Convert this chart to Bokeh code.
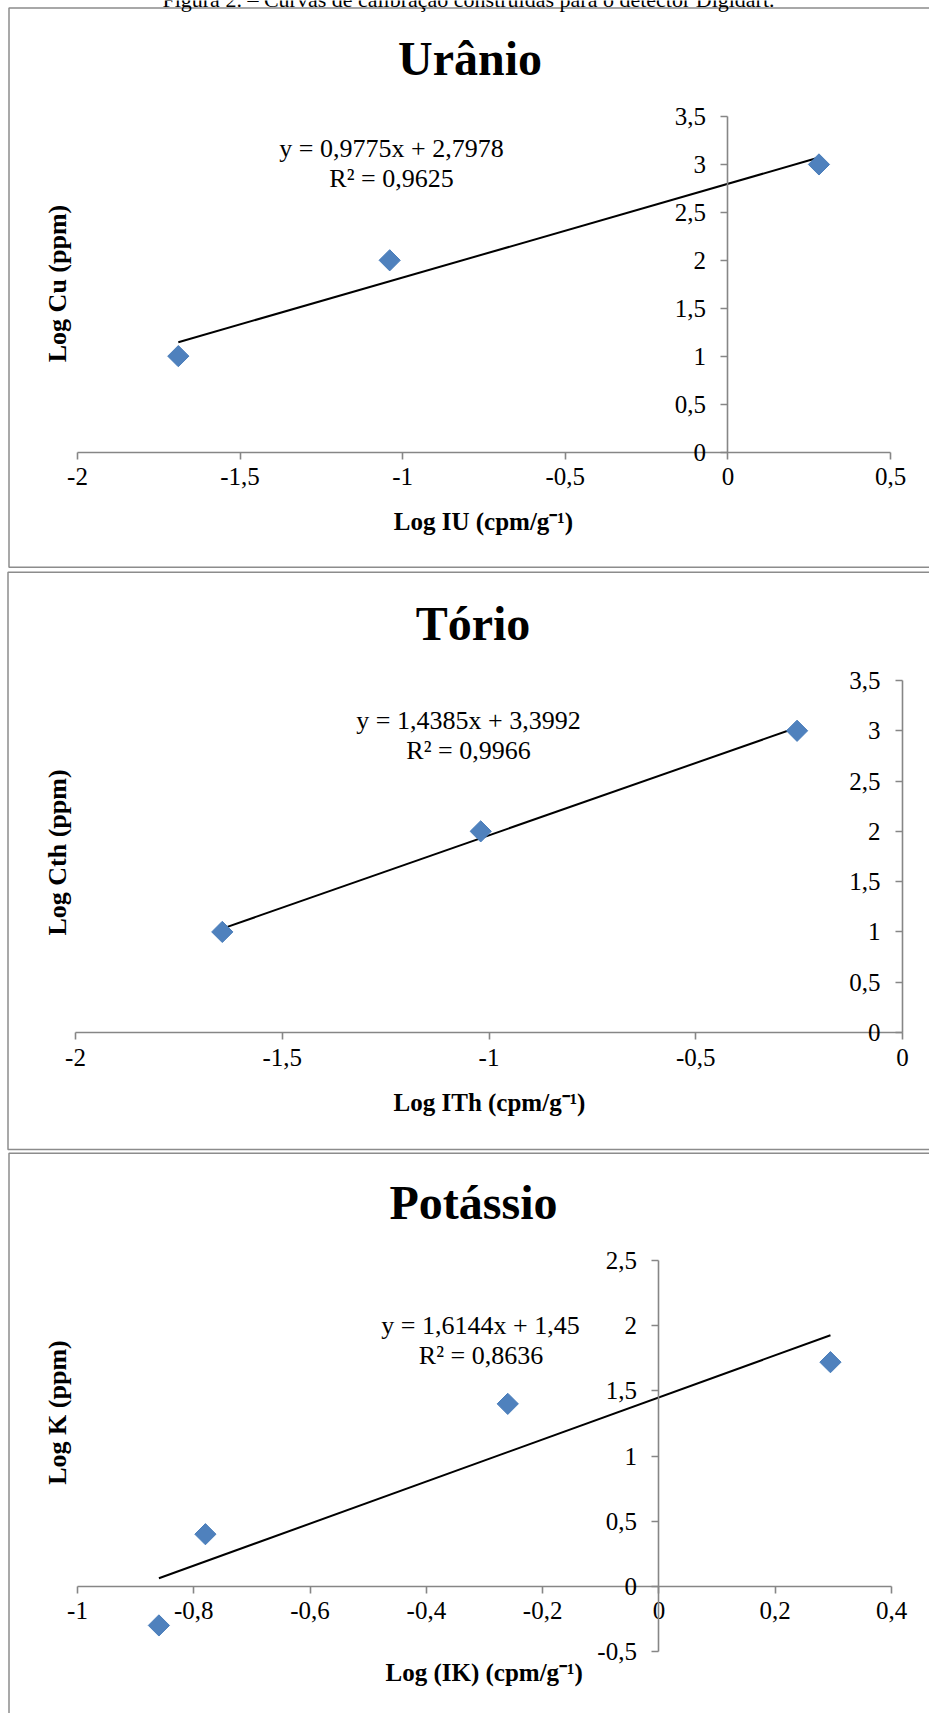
import math
from bokeh.plotting import figure
from bokeh.models import Range1d, LinearAxis, FixedTicker, CustomJSTickFormatter, Grid
from bokeh.layouts import column
from bokeh.core.properties import value
from bokeh.embed import file_html
from bokeh.resources import INLINE

# ---------------- data ----------------
caption = "Figura 2. – Curvas de calibração construídas para o detector Digidart."

u_x = [-1.69, -1.04, 0.28]
u_y = [1.0, 2.0, 3.0]
u_slope, u_intercept, u_r2 = 0.9775, 2.7978, 0.9625
u_xticks = [-2, -1.5, -1, -0.5, 0, 0.5]
u_yticks = [0, 0.5, 1, 1.5, 2, 2.5, 3, 3.5]

th_x = [-1.645, -1.02, -0.255]
th_y = [1.0, 2.0, 3.0]
th_slope, th_intercept, th_r2 = 1.4385, 3.3992, 0.9966
th_xticks = [-2, -1.5, -1, -0.5, 0]
th_yticks = [0, 0.5, 1, 1.5, 2, 2.5, 3, 3.5]

k_x = [-0.86, -0.78, -0.26, 0.295]
k_y = [-0.30, 0.40, 1.40, 1.72]
k_slope, k_intercept, k_r2 = 1.6144, 1.45, 0.8636
k_xticks = [-1, -0.8, -0.6, -0.4, -0.2, 0, 0.2, 0.4]
k_yticks = [-0.5, 0, 0.5, 1, 1.5, 2, 2.5]

titles = ["Urânio", "Tório", "Potássio"]
x_titles = ["Log IU (cpm/g⁻¹)", "Log ITh (cpm/g⁻¹)", "Log (IK) (cpm/g⁻¹)"]
y_titles = ["Log Cu (ppm)", "Log Cth (ppm)", "Log K (ppm)"]

FONT = value("Liberation Serif")
AXIS_GRAY = "#868686"
BORDER_GRAY = "#8c8c8c"
MARKER_BLUE = "#4F81BD"


def num(v):
    return str(v).replace(".", ",")


fmt_code = "var v = Math.round(tick*10)/10; return v.toString().replace('.', ',');"


def panel(W, H, top, xmap, ymap, xs, ys, slope, intercept, r2, xticks, yticks,
          title, xtitle, ytitle, pos, border, cap=None):
    (xa, pxa), (xb, pxb) = xmap
    (ya, pya), (yb, pyb) = ymap
    sx = (pxb - pxa) / (xb - xa)
    x0 = xa - pxa / sx
    x1 = x0 + W / sx
    pya_l = pya - top
    pyb_l = pyb - top
    sy = (pya_l - pyb_l) / (yb - ya)
    y_top = ya + pya_l / sy
    y_bot = y_top - H / sy

    p = figure(width=W, height=H, x_range=Range1d(x0, x1), y_range=Range1d(y_bot, y_top),
               output_backend="svg", toolbar_location=None, title=None,
               x_axis_location=None, y_axis_location=None, min_border=0)
    p.outline_line_color = None
    p.background_fill_color = "white"
    p.border_fill_color = "white"
    p.center = [r for r in p.center if not isinstance(r, Grid)]
    p.extra_x_ranges = {"px": Range1d(0, W)}
    p.extra_y_ranges = {"py": Range1d(H, 0)}

    def style(ax, standoff):
        ax.axis_line_color = AXIS_GRAY
        ax.axis_line_width = 1.6
        ax.major_tick_line_color = AXIS_GRAY
        ax.major_tick_line_width = 1.6
        ax.major_tick_in = 0
        ax.major_tick_out = 7
        ax.minor_tick_line_color = None
        ax.major_label_text_font = "Liberation Serif"
        ax.major_label_text_font_size = "25px"
        ax.major_label_text_color = "black"
        ax.major_label_standoff = standoff

    xaxis = LinearAxis(fixed_location=0, bounds=(xticks[0], xticks[-1]),
                       ticker=FixedTicker(ticks=xticks, minor_ticks=[]),
                       formatter=CustomJSTickFormatter(code=fmt_code))
    style(xaxis, 9)
    p.add_layout(xaxis, "below")
    yaxis = LinearAxis(fixed_location=0, bounds=(yticks[0], yticks[-1]),
                       ticker=FixedTicker(ticks=yticks, minor_ticks=[]),
                       formatter=CustomJSTickFormatter(code=fmt_code))
    style(yaxis, 15)
    p.add_layout(yaxis, "left")

    # trendline over the data's x span
    lx = [min(xs), max(xs)]
    ly = [slope * v + intercept for v in lx]
    p.line(lx, ly, line_color="black", line_width=2)

    # points (diamonds)
    p.scatter(xs, ys, marker="square", angle=math.pi / 4, size=15,
              fill_color=MARKER_BLUE, line_color="#4A7EBB", line_width=1)

    # border (left, top, bottom; right side is off-page)
    bl, bt, bb = border
    if bb is not None:
        bx = [W + 10, bl, bl, W + 10]
        by = [bt - top, bt - top, bb - top, bb - top]
    else:
        bx = [W + 10, bl, bl]
        by = [bt - top, bt - top, H + 10]
    p.line(bx, by, x_range_name="px", y_range_name="py", line_color=BORDER_GRAY, line_width=1.5)

    (tx, ty), (e1x, e1y), (e2x, e2y), (xlx, xly), (ylx, yly) = pos
    common = dict(x_range_name="px", y_range_name="py", text_font=FONT,
                  text_align="center", text_baseline="middle", text_color="black")
    p.text(x=[tx], y=[ty - top], text=[title], text_font_size="48px",
           text_font_style="bold", **common)
    eq = "y = %sx + %s" % (num(slope), num(intercept))
    rr = "R² = %s" % num(r2)
    p.text(x=[e1x, e2x], y=[e1y - top, e2y - top], text=[eq, rr],
           text_font_size="26px", **common)
    p.text(x=[xlx], y=[xly - top], text=[xtitle], text_font_size="25px",
           text_font_style="bold", **common)
    p.text(x=[ylx], y=[yly - top], text=[ytitle], angle=math.pi / 2,
           text_font_size="26px", text_font_style="bold", **common)
    if cap is not None:
        p.text(x=[cap[0]], y=[cap[1]], text=[caption], text_font_size="22px", **common)
    return p


W = 929
p1 = panel(W, 570, 0, ((-2, 77), (0.5, 890)), ((0, 451.5), (3.5, 116)),
           u_x, u_y, u_slope, u_intercept, u_r2, u_xticks, u_yticks,
           titles[0], x_titles[0], y_titles[0],
           [(469.5, 58), (391, 148), (391, 178), (483, 521), (57, 283)],
           (8.5, 7.5, 566.7), cap=(468, -1.5))
p2 = panel(W, 581, 570, ((-2, 75), (0, 902)), ((0, 1032), (3.5, 680)),
           th_x, th_y, th_slope, th_intercept, th_r2, th_xticks, th_yticks,
           titles[1], x_titles[1], y_titles[1],
           [(472.5, 623), (468, 720), (468, 750), (489, 1102), (57, 852)],
           (7.5, 571.7, 1149))
p3 = panel(W, 562, 1151, ((-1, 77), (0.4, 891)), ((-0.5, 1651), (2.5, 1260)),
           k_x, k_y, k_slope, k_intercept, k_r2, k_xticks, k_yticks,
           titles[2], x_titles[2], y_titles[2],
           [(473, 1202), (480, 1325), (480.5, 1355), (483.7, 1672), (57, 1412)],
           (8.5, 1152.7, None))

layout = column(p1, p2, p3, spacing=0)
open("out.html", "w").write(file_html(layout, INLINE))
